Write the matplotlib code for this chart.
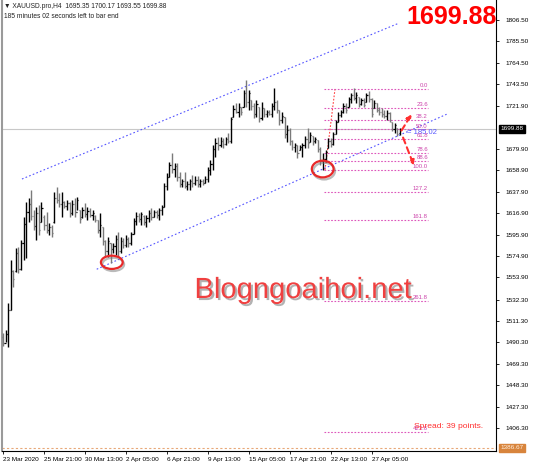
import matplotlib
matplotlib.use("Agg")
import matplotlib.pyplot as plt
import matplotlib.patheffects as pe
from matplotlib.patches import Ellipse

plt.rcParams['font.family'] = ['Liberation Sans', 'DejaVu Sans']

# XAUUSD H4 bars
opens = [1496, 1490, 1498, 1522, 1560, 1560, 1578, 1562, 1588, 1606,
         1618, 1626, 1614, 1604, 1617, 1608, 1613, 1605, 1600, 1603,
         1608, 1632, 1630, 1626, 1628, 1624, 1627, 1617, 1626, 1618,
         1620, 1613, 1620, 1616, 1619, 1615, 1614, 1610, 1600, 1603,
         1590, 1580, 1588, 1582, 1585, 1592, 1580, 1590, 1586, 1592,
         1588, 1597, 1609, 1614, 1611, 1614, 1608, 1612, 1617, 1613,
         1618, 1615, 1620, 1623, 1644, 1652, 1664, 1660, 1663, 1652,
         1646, 1649, 1644, 1646, 1649, 1647, 1650, 1646, 1649, 1647,
         1651, 1659, 1665, 1680, 1686, 1684, 1688, 1685, 1690, 1688,
         1711, 1719, 1716, 1721, 1721, 1735, 1726, 1728, 1722, 1714,
         1721, 1710, 1720, 1714, 1716, 1714, 1722, 1726, 1718, 1708,
         1711, 1695, 1699, 1688, 1682, 1684, 1679, 1682, 1684, 1690,
         1687, 1693, 1688, 1689, 1680, 1668, 1670, 1681, 1688, 1685,
         1695, 1706, 1713, 1716, 1722, 1721, 1729, 1733, 1730, 1731,
         1724, 1728, 1726, 1733, 1729, 1720, 1725, 1718, 1716, 1714,
         1712, 1715, 1706, 1700, 1701, 1695.35]
highs = [1499, 1502, 1529, 1571, 1561, 1583, 1584, 1591, 1613, 1628,
         1632, 1640, 1620, 1623, 1625, 1628, 1615, 1618, 1607, 1605,
         1638, 1643, 1637, 1638, 1629, 1630, 1628, 1630, 1632, 1633,
         1620, 1623, 1627, 1623, 1622, 1620, 1615, 1610, 1617, 1603,
         1591, 1594, 1588, 1588, 1596, 1599, 1594, 1593, 1596, 1594,
         1599, 1612, 1618, 1617, 1618, 1615, 1615, 1620, 1622, 1620,
         1620, 1622, 1625, 1647, 1656, 1667, 1676, 1666, 1666, 1657,
         1651, 1657, 1649, 1651, 1654, 1653, 1653, 1651, 1651, 1653,
         1662, 1669, 1684, 1691, 1692, 1692, 1691, 1692, 1696, 1711,
         1723, 1725, 1725, 1721, 1738, 1748, 1738, 1728, 1725, 1728,
         1721, 1726, 1720, 1718, 1718, 1725, 1740, 1728, 1718, 1716,
         1711, 1703, 1701, 1689, 1686, 1684, 1684, 1686, 1693, 1701,
         1697, 1693, 1692, 1689, 1682, 1676, 1679, 1691, 1691, 1697,
         1708, 1716, 1718, 1725, 1725, 1731, 1735, 1740, 1736, 1731,
         1730, 1730, 1735, 1737, 1730, 1728, 1725, 1721, 1720, 1718,
         1718, 1716, 1706, 1705, 1701, 1700.17]
lows = [1487, 1491, 1486, 1522, 1545, 1559, 1558, 1561, 1571, 1573,
        1608, 1610, 1600, 1591, 1596, 1608, 1600, 1598, 1596, 1594,
        1607, 1627, 1623, 1613, 1622, 1620, 1613, 1615, 1613, 1620,
        1607, 1612, 1613, 1610, 1613, 1610, 1608, 1598, 1594, 1586,
        1574, 1574, 1568, 1578, 1576, 1574, 1578, 1583, 1584, 1584,
        1586, 1597, 1605, 1608, 1605, 1605, 1603, 1608, 1610, 1613,
        1612, 1610, 1615, 1623, 1640, 1652, 1656, 1652, 1649, 1643,
        1643, 1642, 1640, 1640, 1643, 1645, 1643, 1643, 1645, 1647,
        1648, 1654, 1659, 1672, 1679, 1682, 1681, 1684, 1686, 1686,
        1711, 1715, 1711, 1713, 1721, 1721, 1718, 1718, 1710, 1711,
        1706, 1708, 1711, 1711, 1713, 1711, 1718, 1715, 1703, 1705,
        1691, 1687, 1684, 1679, 1677, 1671, 1679, 1672, 1681, 1681,
        1687, 1684, 1686, 1677, 1664, 1659, 1667, 1681, 1682, 1684,
        1695, 1706, 1711, 1715, 1715, 1721, 1725, 1728, 1725, 1721,
        1723, 1721, 1726, 1726, 1711, 1720, 1716, 1713, 1711, 1710,
        1708, 1706, 1698, 1696, 1693, 1693.55]
closes = [1490, 1498, 1522, 1560, 1552, 1578, 1562, 1588, 1606, 1618,
          1626, 1614, 1604, 1617, 1600, 1622, 1605, 1600, 1603, 1598,
          1632, 1630, 1626, 1628, 1624, 1627, 1617, 1626, 1618, 1630,
          1611, 1620, 1616, 1619, 1615, 1617, 1610, 1600, 1605, 1590,
          1580, 1590, 1582, 1585, 1592, 1580, 1590, 1586, 1592, 1588,
          1597, 1609, 1614, 1611, 1616, 1608, 1612, 1617, 1613, 1618,
          1615, 1620, 1623, 1644, 1652, 1664, 1660, 1663, 1652, 1646,
          1649, 1644, 1646, 1649, 1647, 1650, 1646, 1649, 1647, 1651,
          1659, 1665, 1680, 1686, 1684, 1688, 1685, 1690, 1688, 1709,
          1719, 1716, 1721, 1716, 1735, 1726, 1735, 1722, 1714, 1724,
          1710, 1720, 1714, 1716, 1714, 1722, 1726, 1718, 1708, 1712,
          1695, 1699, 1688, 1682, 1684, 1676, 1682, 1684, 1690, 1686,
          1694, 1688, 1690, 1680, 1668, 1670, 1677, 1688, 1685, 1695,
          1706, 1713, 1716, 1722, 1718, 1729, 1733, 1730, 1733, 1724,
          1728, 1723, 1733, 1729, 1714, 1725, 1718, 1716, 1714, 1712,
          1715, 1708, 1700, 1703, 1695, 1699.88]

date_pos = [0, 16, 32, 48, 64, 80, 96, 112, 128, 144]
date_labels = ['23 Mar 2020', '25 Mar 21:00', '30 Mar 13:00', '2 Apr 05:00',
               '6 Apr 21:00', '9 Apr 13:00', '15 Apr 05:00', '17 Apr 21:00',
               '22 Apr 13:00', '27 Apr 05:00']
price_ticks = [1806.50, 1785.50, 1764.50, 1743.50, 1721.90, 1679.90, 1658.90,
               1637.90, 1616.90, 1595.90, 1574.90, 1553.90, 1532.30, 1511.30,
               1490.30, 1469.30, 1448.30, 1427.30, 1406.30]

fib_levels = [0.0, 23.6, 38.2, 50.0, 61.8, 78.6, 88.6, 100.0, 127.2, 161.8, 261.8, 423.6]
fib_high = 1738.8
fib_low = 1659.4
last_price = 1699.88
ask_price = 1386.67

fig = plt.figure(figsize=(5.34, 4.62), dpi=100)
ax = fig.add_axes([2/534, 11/462, 494/534, 451/462])
ax.set_xlim(-0.4, 192.6)
ax.set_ylim(1383.7, 1826.1)

# price lines
ax.axhline(last_price, color='#c8c8c8', lw=0.8, zorder=1)
ax.axhline(ask_price, color='#e8a878', lw=0.8, ls=(0, (2, 2)), zorder=1)

# OHLC bars
for i in range(len(closes)):
    c = '#000000' if closes[i] >= opens[i] else '#7a7a7a'
    ax.vlines(i, lows[i], highs[i], color=c, lw=1.0, zorder=3)
    ax.hlines(opens[i], i - 0.45, i, color=c, lw=0.9, zorder=3)
    ax.hlines(closes[i], i, i + 0.45, color=c, lw=0.9, zorder=3)

# channel lines
blue = '#5555ff'
ax.plot([7.4, 154.3], [1650.5, 1803.0], color=blue, lw=0.8, ls=(0, (1.5, 2)))
ax.plot([36.6, 173.3], [1562.0, 1714.0], color=blue, lw=0.8, ls=(0, (1.5, 2)))
ax.text(157.8, 1696, '= 185.02', color=blue, fontsize=5.5, va='center', ha='left')

# fibonacci
fib_col = '#dd55bb'
ax.plot([125.8, 129.7], [fib_low, fib_high], color='#ff4040', lw=0.8, ls=(0, (1.5, 1.5)))
for lvl in fib_levels:
    p = fib_high - lvl / 100 * (fib_high - fib_low)
    ax.plot([125.4, 166.0], [p, p], color=fib_col, lw=0.8, ls=(0, (1.5, 1.5)))
    ax.text(166.0, p + 0.8, f'{lvl:.1f}', color='#cc44aa', fontsize=4.3,
            ha='right', va='bottom')

# arrows
arr = dict(arrowstyle='-|>', color='#ff3030', lw=1.5, ls=(0, (3, 2)), mutation_scale=7)
ax.annotate('', xy=(160.2, 1716.3), xytext=(155.1, 1695.7), arrowprops=arr)
ax.annotate('', xy=(160.9, 1661.3), xytext=(155.9, 1693.7), arrowprops=arr)

# circles
shadow = [pe.SimpleLineShadow(offset=(1, -1.5), shadow_color='#777777', alpha=0.5), pe.Normal()]
for cx, cy, h in [(42.5, 1568.8, 13.0), (124.9, 1660.3, 16.4)]:
    e = Ellipse((cx, cy), width=8.5, height=h, fill=False, ec='#e82828', lw=1.6, zorder=5)
    e.set_path_effects(shadow)
    ax.add_patch(e)

# axes look
ax.spines['top'].set_visible(False)
ax.spines['left'].set_color('#9a9a9a')
ax.spines['left'].set_linewidth(1.5)
ax.spines['right'].set_linewidth(0.8)
ax.spines['bottom'].set_linewidth(0.8)

ax.yaxis.tick_right()
ax.set_yticks(price_ticks)
ax.set_yticklabels([f'{v:.2f}' for v in price_ticks])
ax.tick_params(axis='y', labelsize=4.6, length=2.5, pad=4, width=0.6)
ax.set_xticks(date_pos)
ax.set_xticklabels(date_labels)
ax.tick_params(axis='x', labelsize=4.6, length=2.5, pad=1.5, width=0.6)
for t in ax.get_xticklabels():
    t.set_ha('left')

ax.annotate(f'{last_price:.2f}', xy=(1.0, last_price), xycoords=('axes fraction', 'data'),
            xytext=(3, 0), textcoords='offset points', fontsize=4.6, color='white',
            va='center', ha='left',
            bbox=dict(boxstyle='square,pad=0.25', fc='black', ec='black'))
ax.annotate(f'{ask_price:.2f}', xy=(1.0, ask_price), xycoords=('axes fraction', 'data'),
            xytext=(3, 0), textcoords='offset points', fontsize=4.6, color='#fff0e0',
            va='center', ha='left',
            bbox=dict(boxstyle='square,pad=0.25', fc='#d8843c', ec='#d8843c'))

# texts
fig.text(4/534, 1 - 7/462, '\u25bc XAUUSD.pro,H4  1695.35 1700.17 1693.55 1699.88',
         fontsize=4.8, va='center', ha='left', color='#222222')
fig.text(4/534, 1 - 16/462, '185 minutes 02 seconds left to bar end',
         fontsize=4.8, va='center', ha='left', color='#222222')
fig.text(497/534, 1 - 17/462, '1699.88', fontsize=18, fontweight='bold', color='#ff0000',
         ha='right', va='center')
fig.text(303/534, 1 - 290/462, 'Blogngoaihoi.net', fontsize=21, color='#f04040',
         ha='center', va='center',
         path_effects=[pe.withSimplePatchShadow(offset=(1.5, -1.5), shadow_rgbFace='#555555', alpha=0.45)])
fig.text(414/534, 1 - 427/462, 'Spread: 39 points.', fontsize=6.1, color='#ff3030',
         ha='left', va='center')

fig.savefig('out.png', dpi=100, facecolor='white')
